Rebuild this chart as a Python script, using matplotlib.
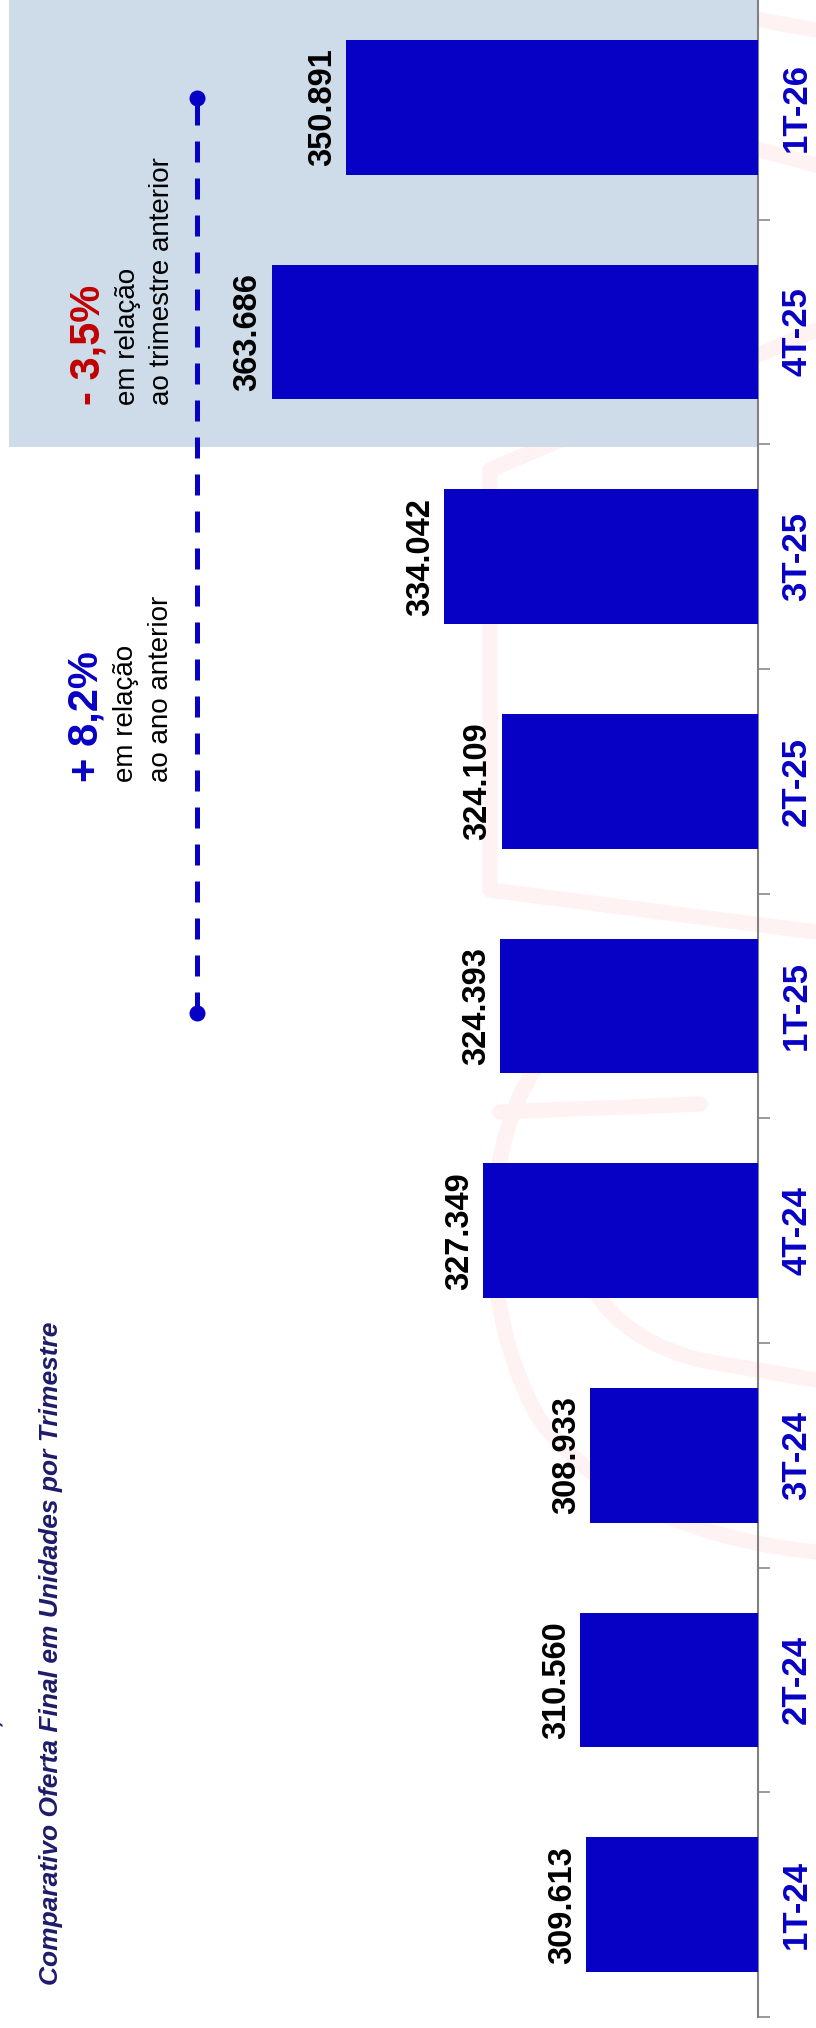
import matplotlib
matplotlib.use('Agg')
import matplotlib.pyplot as plt
from matplotlib.path import Path
from matplotlib.patches import PathPatch

# ---------------- data ----------------
quarters = ['1T-24', '2T-24', '3T-24', '4T-24', '1T-25', '2T-25', '3T-25', '4T-25', '1T-26']
values = [309613, 310560, 308933, 327349, 324393, 324109, 334042, 363686, 350891]
value_labels = ['309.613', '310.560', '308.933', '327.349', '324.393',
                '324.109', '334.042', '363.686', '350.891']
title = 'Comparativo Oferta Final em Unidades por Trimestre'
qoq_text = ['- 3,5%', 'em relação', 'ao trimestre anterior']
yoy_text = ['+ 8,2%', 'em relação', 'ao ano anterior']
highlight_from = '4T-25'
yoy_from, yoy_to = '1T-25', '1T-26'

# ---------------- style ----------------
BLUE = '#0700C5'
RED = '#C00000'
NAVY = '#1E1B6B'
SHADE = '#CEDBE8'
GRAY = '#808080'
WM = '#FEF2F2'

W, H, DPI = 816, 2028, 100
plt.rcParams['font.family'] = ['Liberation Sans', 'DejaVu Sans']
fig = plt.figure(figsize=(W / DPI, H / DPI), dpi=DPI)
fig.patch.set_facecolor('white')


def px(x, y):
    return (x / W, 1 - y / H)


# background (faint watermark logo) in pixel coordinates
bg = fig.add_axes([0, 0, 1, 1], zorder=0)
bg.set_xlim(0, W)
bg.set_ylim(H, 0)
bg.axis('off')
wm_lw = 11
M, L, C = Path.MOVETO, Path.LINETO, Path.CURVE4
shapes = [
    ([(490, 470), (490, 890), (816, 932)], [M, L, L]),
    ([(490, 470), (816, 330)], [M, L]),
    ([(560, 1040), (480, 1110), (470, 1300), (540, 1420),
      (600, 1500), (700, 1540), (816, 1552)], [M, C, C, C, C, C, C]),
    ([(560, 1180), (570, 1290), (620, 1340), (700, 1360), (816, 1380)], [M, C, C, C, L]),
    ([(500, 1112), (700, 1104)], [M, L]),
    ([(760, 20), (816, 30)], [M, L]),
    ([(760, 150), (816, 165)], [M, L]),
]
for verts, codes in shapes:
    bg.add_patch(PathPatch(Path(verts, codes), fill=False, edgecolor=WM,
                           lw=wm_lw, capstyle='round', joinstyle='round'))

# main axes (rotated layout: bars grow to the left)
ax_right_px = 758
ax_bottom_px = 2017
ax_top_px = -5
ax = fig.add_axes([0, (H - ax_bottom_px) / H, ax_right_px / W,
                   (ax_bottom_px - ax_top_px) / H], zorder=1)
ax.patch.set_alpha(0)

n = len(quarters)
ypos = list(range(n))
ax.barh(ypos, values, height=0.6, color=BLUE, zorder=3)
ax.set_xlim(410400, 280000)
ax.set_ylim(-0.5, n - 0.5)

# highlighted region
hi = quarters.index(highlight_from)
ax.axhspan(hi - 0.51, n + 1, xmin=9.4 / ax_right_px, xmax=1, color=SHADE, zorder=1, lw=0)

# yoy dashed connector
y0 = quarters.index(yoy_from)
y1 = quarters.index(yoy_to)
ax.plot([376500, 376500], [y0 - 0.03, y1 + 0.04], color=BLUE, lw=3.6,
        ls=(0, (4.2, 3.2)), dash_capstyle='butt', marker='o', ms=10.5, zorder=4)

# value labels
for i, (v, lbl) in enumerate(zip(values, value_labels)):
    ax.annotate(lbl, xy=(v, i), xytext=(-10.8, 0), textcoords='offset points',
                rotation=90, rotation_mode='anchor', ha='center', va='baseline',
                fontsize=23.5, fontweight='bold', color='black', zorder=5)

# axes styling
for s in ['top', 'left', 'bottom']:
    ax.spines[s].set_visible(False)
ax.spines['right'].set_color(GRAY)
ax.spines['right'].set_linewidth(1.5)
ax.xaxis.set_visible(False)
ax.yaxis.tick_right()
ax.set_yticks(ypos)
ax.set_yticklabels(quarters, rotation=90, va='center', fontsize=25,
                   fontweight='bold', color=BLUE)
ax.set_yticks([i - 0.5 for i in range(n + 1)], minor=True)
ax.tick_params(axis='y', which='major', length=0, pad=16)
ax.tick_params(axis='y', which='minor', length=8.6, width=1.1, color=GRAY,
               right=True, left=False)

# annotations
def block(lines, x_base, y_start, color):
    fig.text(*px(x_base[0], y_start), lines[0], rotation=90, rotation_mode='anchor',
             ha='left', va='baseline', fontsize=30, fontweight='bold', color=color,
             zorder=6)
    fig.text(*px(x_base[1], y_start), lines[1], rotation=90, rotation_mode='anchor',
             ha='left', va='baseline', fontsize=20, color='black', zorder=6)
    fig.text(*px(x_base[2], y_start), lines[2], rotation=90, rotation_mode='anchor',
             ha='left', va='baseline', fontsize=20, color='black', zorder=6)


block(qoq_text, (100, 135, 169), 405, RED)
block(yoy_text, (98, 133, 168), 782, BLUE)

# subtitle
fig.text(*px(58, 1985), title, rotation=90, rotation_mode='anchor', ha='left',
         va='baseline', fontsize=19, fontweight='bold', fontstyle='italic', color=NAVY,
         zorder=6)
# clipped fragment of an upper title line
fig.text(*px(-1, 1723), ',', rotation=90, rotation_mode='anchor', ha='center',
         va='baseline', fontsize=20, fontweight='bold', fontstyle='italic', color=NAVY,
         zorder=6)

fig.savefig('out.png', dpi=DPI)
